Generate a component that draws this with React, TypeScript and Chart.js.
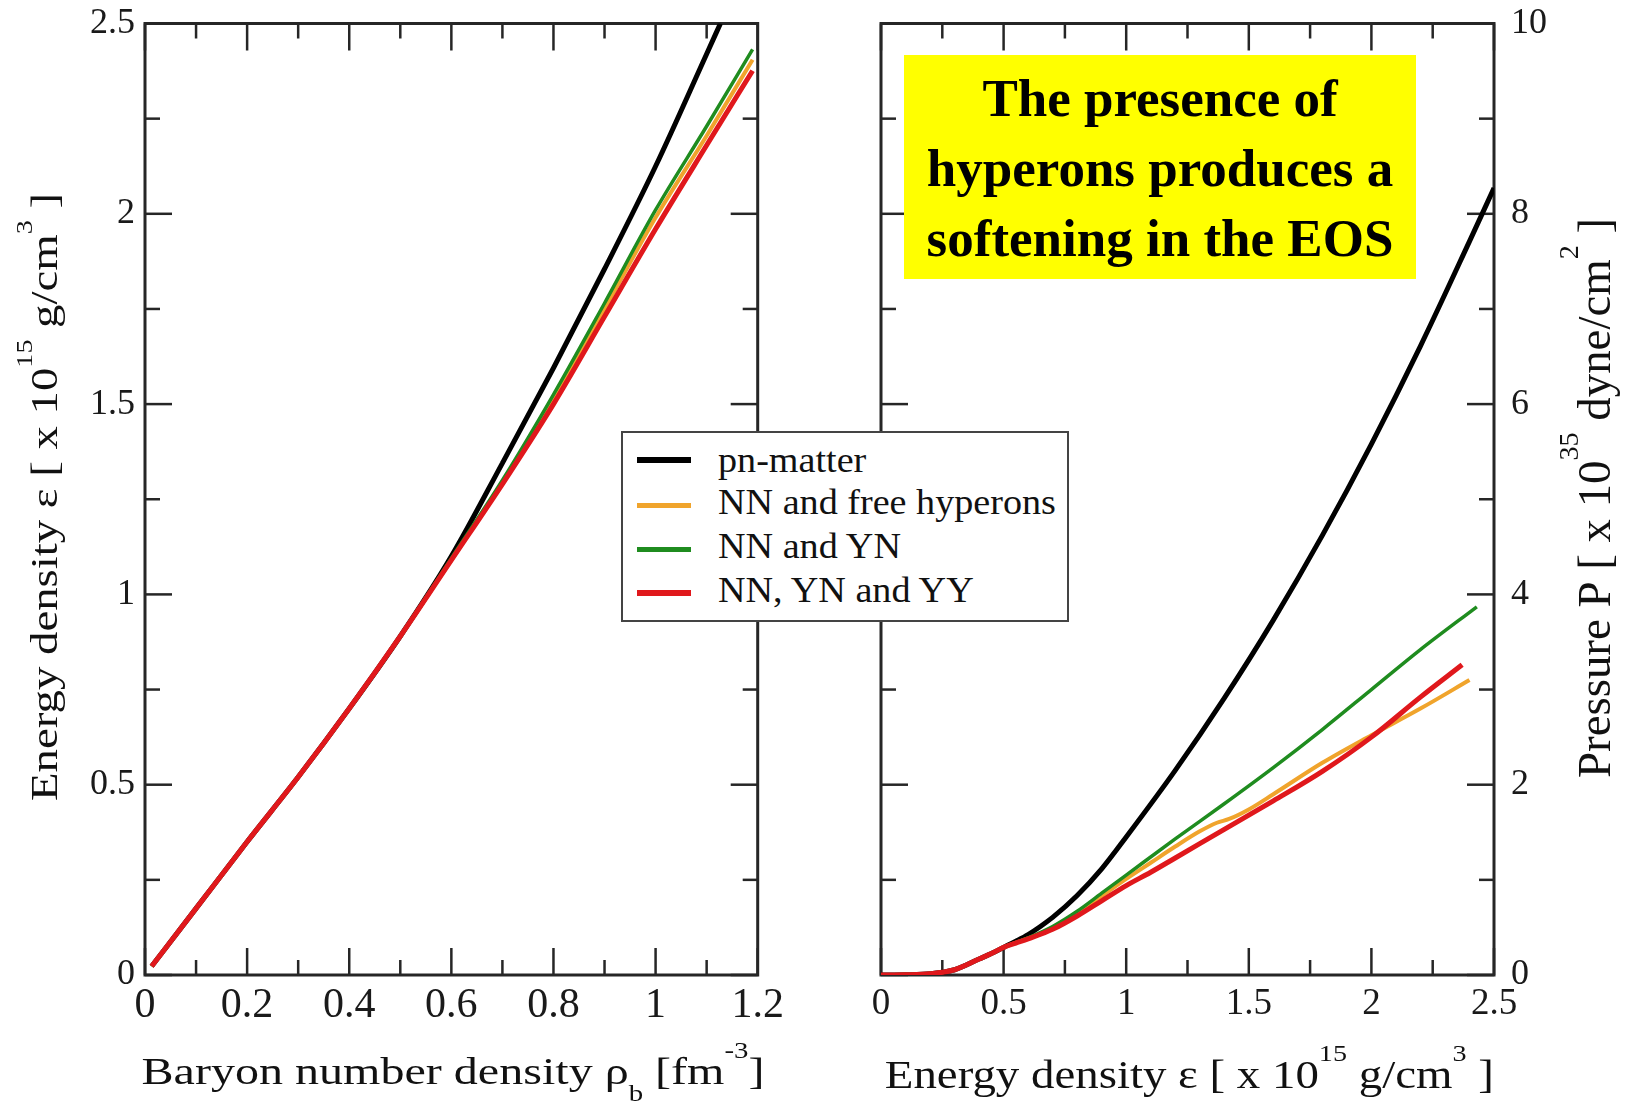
import React, { useEffect, useRef } from "react";
import { Chart, registerables } from "chart.js";

Chart.register(...registerables);

const SERIF = "'Liberation Serif', 'Times New Roman', Times, serif";

// ---------- legend / series ----------
const seriesNames = ["pn-matter", "NN and free hyperons", "NN and YN", "NN, YN and YY"];
const seriesColors = ["#000000", "#f0a42c", "#1f8c1f", "#e0181c"];

// ---------- left panel: energy density vs baryon density ----------
const rhoBlack = [0.013, 0.1, 0.2, 0.3, 0.4, 0.5, 0.6, 0.7, 0.8, 0.9, 1.0, 1.1, 1.127];
const epsBlack = [0.023, 0.175, 0.35, 0.52, 0.7, 0.89, 1.1, 1.345, 1.595, 1.855, 2.125, 2.42, 2.5];
const rhoHyp = [0.013, 0.1, 0.2, 0.3, 0.4, 0.5, 0.6, 0.7, 0.8, 0.9, 1.0, 1.1, 1.19];
const epsFree = [0.023, 0.175, 0.35, 0.52, 0.7, 0.89, 1.09, 1.295, 1.515, 1.75, 1.99, 2.205, 2.405];
const epsYN = [0.023, 0.175, 0.35, 0.52, 0.7, 0.89, 1.095, 1.3, 1.525, 1.765, 2.01, 2.23, 2.432];
const epsYY = [0.023, 0.175, 0.35, 0.52, 0.7, 0.89, 1.09, 1.29, 1.5, 1.73, 1.96, 2.18, 2.376];

const leftXTicks = [0, 0.2, 0.4, 0.6, 0.8, 1.0, 1.2];
const leftXMinor = [0.1, 0.3, 0.5, 0.7, 0.9, 1.1];
const leftYTicks = [0, 0.5, 1.0, 1.5, 2.0, 2.5];
const leftYMinor = [0.25, 0.75, 1.25, 1.75, 2.25];

// ---------- right panel: pressure vs energy density ----------
const eBlack = [0, 0.1, 0.2, 0.3, 0.4, 0.45, 0.5, 0.55, 0.6, 0.65, 0.7, 0.8, 0.9, 1.0, 1.2, 1.4, 1.6, 1.8, 2.0, 2.2, 2.4, 2.5];
const pBlack = [0, 0.002, 0.012, 0.055, 0.168, 0.225, 0.29, 0.355, 0.425, 0.51, 0.605, 0.835, 1.115, 1.45, 2.15, 2.91, 3.73, 4.62, 5.58, 6.61, 7.71, 8.27];
const eFree = [0, 0.1, 0.2, 0.3, 0.4, 0.45, 0.5, 0.55, 0.6, 0.7, 0.8, 0.9, 1.0, 1.1, 1.2, 1.3, 1.37, 1.42, 1.5, 1.6, 1.8, 2.0, 2.2, 2.4];
const pFree = [0, 0.002, 0.012, 0.055, 0.168, 0.225, 0.29, 0.34, 0.385, 0.5, 0.655, 0.83, 1.01, 1.18, 1.35, 1.51, 1.6, 1.64, 1.74, 1.9, 2.23, 2.52, 2.8, 3.1];
const eYN = [0, 0.1, 0.2, 0.3, 0.4, 0.45, 0.5, 0.55, 0.6, 0.7, 0.8, 0.9, 1.0, 1.2, 1.4, 1.6, 1.8, 2.0, 2.2, 2.43];
const pYN = [0, 0.002, 0.012, 0.055, 0.168, 0.225, 0.29, 0.34, 0.39, 0.51, 0.67, 0.86, 1.05, 1.43, 1.8, 2.18, 2.58, 3.0, 3.42, 3.87];
const eYY = [0, 0.1, 0.2, 0.3, 0.4, 0.45, 0.5, 0.55, 0.6, 0.7, 0.8, 0.9, 1.0, 1.1, 1.2, 1.4, 1.6, 1.8, 2.0, 2.2, 2.37];
const pYY = [0, 0.002, 0.012, 0.055, 0.168, 0.225, 0.29, 0.335, 0.38, 0.48, 0.62, 0.78, 0.94, 1.08, 1.23, 1.53, 1.83, 2.14, 2.5, 2.92, 3.26];

const rightXTicks = [0, 0.5, 1.0, 1.5, 2.0, 2.5];
const rightXMinor = [0.25, 0.75, 1.25, 1.75, 2.25];
const rightYTicks = [0, 2, 4, 6, 8, 10];
const rightYMinor = [1, 3, 5, 7, 9];

const annotationLines = ["The presence of", "hyperons produces a", "softening in the EOS"];

type Seg = { t: string; sup?: boolean; sub?: boolean };

const leftXTitle: Seg[] = [
  { t: "Baryon number density ρ" },
  { t: "b", sub: true },
  { t: " [fm" },
  { t: "-3", sup: true },
  { t: "]" },
];
const energyTitle: Seg[] = [
  { t: "Energy density ε [ x 10" },
  { t: "15", sup: true },
  { t: " g/cm" },
  { t: "3", sup: true },
  { t: " ]" },
];
const pressureTitle: Seg[] = [
  { t: "Pressure P [ x 10" },
  { t: "35", sup: true },
  { t: " dyne/cm" },
  { t: "2", sup: true },
  { t: " ]" },
];

function drawRich(ctx: CanvasRenderingContext2D, segs: Seg[], cx: number, cy: number, rot: number, size: number, len: number) {
  ctx.save();
  ctx.translate(cx, cy);
  ctx.rotate(rot);
  const parts = segs.map((s) => {
    const fs = s.sup || s.sub ? size * 0.6 : size;
    ctx.font = `${fs}px ${SERIF}`;
    return { s, fs, w: ctx.measureText(s.t).width };
  });
  const natural = parts.reduce((a, p) => a + p.w, 0);
  ctx.scale(len / natural, 1);
  ctx.fillStyle = "#111";
  ctx.textBaseline = "alphabetic";
  ctx.textAlign = "left";
  let x = -natural / 2;
  for (const p of parts) {
    ctx.font = `${p.fs}px ${SERIF}`;
    const dy = p.s.sup ? -size * 0.68 : p.s.sub ? size * 0.45 : 0;
    ctx.fillText(p.s.t, x, dy);
    x += p.w;
  }
  ctx.restore();
}

const frameTicksPlugin = {
  id: "frameTicks",
  beforeDatasetsDraw(chart: any, _args: any, opts: any) {
    const { ctx, chartArea: a, scales } = chart;
    const xs = scales.x;
    const ys = scales.y;
    ctx.save();
    ctx.strokeStyle = "#262626";
    ctx.lineCap = "butt";
    ctx.lineWidth = 2.5;
    const seg = (x1: number, y1: number, x2: number, y2: number) => {
      ctx.beginPath();
      ctx.moveTo(x1, y1);
      ctx.lineTo(x2, y2);
      ctx.stroke();
    };
    const groupsX: [number[], number][] = [
      [opts.xMajor, 27],
      [opts.xMinor, 15],
    ];
    for (const [vals, len] of groupsX) {
      for (const v of vals) {
        const px = xs.getPixelForValue(v);
        seg(px, a.bottom, px, a.bottom - len);
        seg(px, a.top, px, a.top + len);
      }
    }
    const groupsY: [number[], number][] = [
      [opts.yMajor, 27],
      [opts.yMinor, 15],
    ];
    for (const [vals, len] of groupsY) {
      for (const v of vals) {
        const py = ys.getPixelForValue(v);
        seg(a.left, py, a.left + len, py);
        seg(a.right, py, a.right - len, py);
      }
    }
    ctx.lineWidth = 3;
    ctx.strokeRect(a.left, a.top, a.right - a.left, a.bottom - a.top);
    ctx.restore();
  },
};

const richTitlesPlugin = {
  id: "richTitles",
  afterDraw(chart: any, _args: any, opts: any) {
    const ctx = chart.ctx;
    for (const t of opts.items) {
      drawRich(ctx, t.segs, t.x, t.y, t.rot, t.size, t.len);
    }
  },
};

const fmt = (v: any) => String(Math.round(Number(v) * 10) / 10);

function pts(xs: number[], ys: number[]) {
  return xs.map((x, i) => ({ x, y: ys[i] }));
}

function ds(label: string, color: string, data: any[], width: number, order: number) {
  return {
    label,
    data,
    borderColor: color,
    backgroundColor: color,
    borderWidth: width,
    pointRadius: 0,
    fill: false,
    cubicInterpolationMode: "monotone" as const,
    order,
  };
}

function axis(opts: {
  pos: "left" | "right" | "bottom";
  min: number;
  max: number;
  ticks: number[];
  size: number;
  padding: number;
  fit: number;
}) {
  const horizontal = opts.pos === "bottom";
  return {
    type: "linear" as const,
    position: opts.pos,
    min: opts.min,
    max: opts.max,
    grid: { display: false, drawTicks: false, tickLength: 0 },
    border: { display: false },
    ticks: {
      font: { family: SERIF, size: opts.size },
      color: "#1a1a1a",
      padding: opts.padding,
      autoSkip: false,
      maxRotation: 0,
      minRotation: 0,
      callback: fmt,
    },
    afterBuildTicks: (s: any) => {
      s.ticks = opts.ticks.map((v) => ({ value: v }));
    },
    afterFit: (s: any) => {
      if (horizontal) s.height = opts.fit;
      else s.width = opts.fit;
      s.paddingTop = 0;
      s.paddingBottom = 0;
      s.paddingLeft = 0;
      s.paddingRight = 0;
    },
  };
}

export default function App() {
  const leftRef = useRef<HTMLCanvasElement>(null);
  const rightRef = useRef<HTMLCanvasElement>(null);

  useEffect(() => {
    const left = new Chart(leftRef.current as HTMLCanvasElement, {
      type: "line",
      data: {
        datasets: [
          ds(seriesNames[0], seriesColors[0], pts(rhoBlack, epsBlack), 5, 3),
          ds(seriesNames[1], seriesColors[1], pts(rhoHyp, epsFree), 4, 2),
          ds(seriesNames[2], seriesColors[2], pts(rhoHyp, epsYN), 3.5, 1),
          ds(seriesNames[3], seriesColors[3], pts(rhoHyp, epsYY), 5, 0),
        ],
      },
      options: {
        animation: false,
        responsive: false,
        maintainAspectRatio: false,
        layout: { padding: { left: 0, top: 23.5, right: 42.3, bottom: 0 } },
        plugins: {
          legend: { display: false },
          tooltip: { enabled: false },
          frameTicks: { xMajor: leftXTicks, xMinor: leftXMinor, yMajor: leftYTicks, yMinor: leftYMinor },
          richTitles: {
            items: [
              { segs: leftXTitle, x: 453, y: 1084, rot: 0, size: 38, len: 623 },
              { segs: energyTitle, x: 57, y: 497, rot: -Math.PI / 2, size: 37, len: 608 },
            ],
          },
        } as any,
        scales: {
          x: axis({ pos: "bottom", min: 0, max: 1.2, ticks: leftXTicks, size: 42, padding: 6, fit: 129 }),
          y: axis({ pos: "left", min: 0, max: 2.5, ticks: leftYTicks, size: 36, padding: 10, fit: 145 }),
        } as any,
      },
      plugins: [frameTicksPlugin, richTitlesPlugin],
    });

    const right = new Chart(rightRef.current as HTMLCanvasElement, {
      type: "line",
      data: {
        datasets: [
          ds(seriesNames[0], seriesColors[0], pts(eBlack, pBlack), 5, 3),
          ds(seriesNames[1], seriesColors[1], pts(eFree, pFree), 4, 2),
          ds(seriesNames[2], seriesColors[2], pts(eYN, pYN), 3.5, 1),
          ds(seriesNames[3], seriesColors[3], pts(eYY, pYY), 5, 0),
        ],
      },
      options: {
        animation: false,
        responsive: false,
        maintainAspectRatio: false,
        layout: { padding: { left: 61, top: 23.5, right: 0, bottom: 0 } },
        plugins: {
          legend: { display: false },
          tooltip: { enabled: false },
          frameTicks: { xMajor: rightXTicks, xMinor: rightXMinor, yMajor: rightYTicks, yMinor: rightYMinor },
          richTitles: {
            items: [
              { segs: energyTitle, x: 369.3, y: 1088, rot: 0, size: 40, len: 609 },
              { segs: pressureTitle, x: 790, y: 498, rot: -Math.PI / 2, size: 47, len: 560 },
            ],
          },
        } as any,
        scales: {
          x: axis({ pos: "bottom", min: 0, max: 2.5, ticks: rightXTicks, size: 37, padding: 7, fit: 129 }),
          y: axis({ pos: "right", min: 0, max: 10, ticks: rightYTicks, size: 36, padding: 17, fit: 136 }),
        } as any,
      },
      plugins: [frameTicksPlugin, richTitlesPlugin],
    });

    return () => {
      left.destroy();
      right.destroy();
    };
  }, []);

  const legendRows = [
    { sample: 27, text: 9.7, h: 6 },
    { sample: 72.7, text: 51.7, h: 5 },
    { sample: 116.3, text: 95.7, h: 5 },
    { sample: 159.7, text: 139.7, h: 6 },
  ];

  return (
    <div style={{ position: "absolute", left: 0, top: 0, width: 1630, height: 1104, background: "#fff", overflow: "hidden" }}>
      <canvas ref={leftRef} width={800} height={1104} style={{ position: "absolute", left: 0, top: 0, width: 800, height: 1104 }} />
      <canvas ref={rightRef} width={810} height={1104} style={{ position: "absolute", left: 820, top: 0, width: 810, height: 1104 }} />
      <div
        style={{
          position: "absolute",
          left: 904,
          top: 55,
          width: 512,
          height: 224,
          background: "#ffff00",
          zIndex: 2,
          fontFamily: SERIF,
          fontWeight: "bold",
          fontSize: 53,
          lineHeight: "70px",
          textAlign: "center",
          color: "#000",
          paddingTop: 8,
          boxSizing: "border-box",
          whiteSpace: "nowrap",
        }}
      >
        {annotationLines.map((l) => (
          <div key={l}>{l}</div>
        ))}
      </div>
      <div
        style={{
          position: "absolute",
          left: 621,
          top: 431,
          width: 448,
          height: 191,
          boxSizing: "border-box",
          border: "2px solid #444",
          background: "#fff",
          zIndex: 2,
          fontFamily: SERIF,
          fontSize: 35,
          lineHeight: "35px",
          color: "#111",
        }}
      >
        {seriesNames.map((n, i) => (
          <React.Fragment key={n}>
            <div
              style={{
                position: "absolute",
                left: 14.3,
                top: legendRows[i].sample - legendRows[i].h / 2,
                width: 53.4,
                height: legendRows[i].h,
                background: seriesColors[i],
              }}
            />
            <div
              style={{
                position: "absolute",
                left: 95.3,
                top: legendRows[i].text,
                whiteSpace: "nowrap",
                transform: "scaleX(1.09)",
                transformOrigin: "0 0",
              }}
            >
              {n}
            </div>
          </React.Fragment>
        ))}
      </div>
    </div>
  );
}
